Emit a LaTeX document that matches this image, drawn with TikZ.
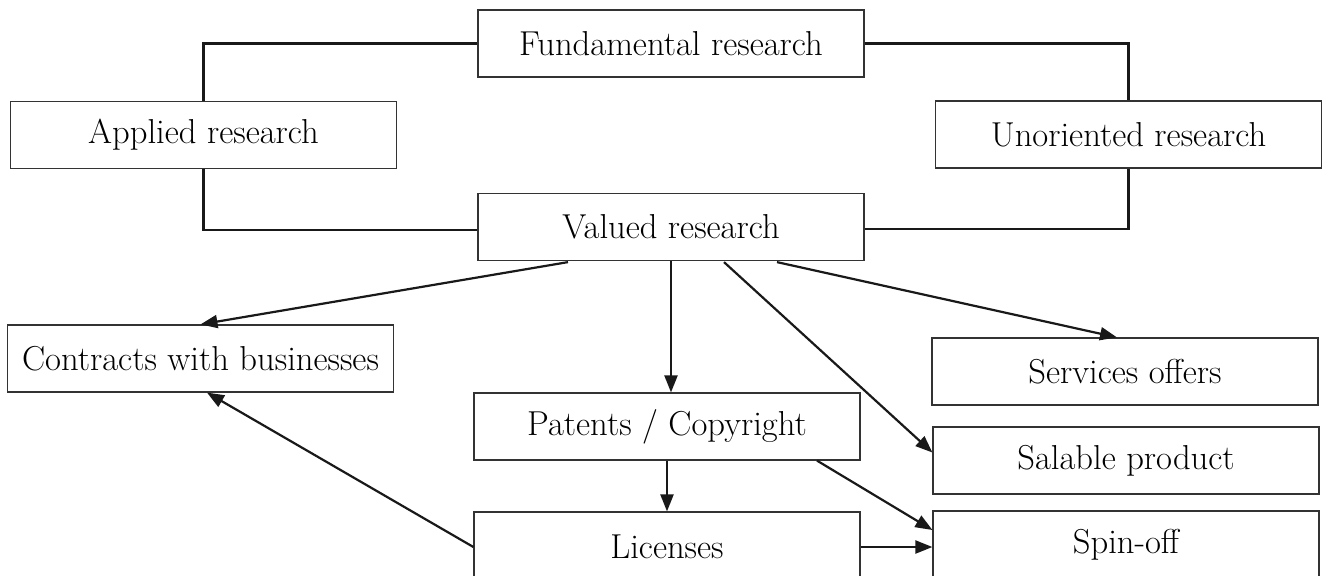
\documentclass[tikz,border=0pt]{standalone}
\usetikzlibrary{arrows.meta,calc}
\begin{document}
\begin{tikzpicture}[x=0.5pt,y=-0.5pt,
  box/.style={draw=black!80, line width=0.6pt, minimum width=193pt, minimum height=33.5pt,
    inner sep=0pt, font=\fontsize{17.3}{20}\selectfont, text=black},
  link/.style={line width=1.1pt, draw=black!90},
  arr/.style={link, -{Triangle[length=8.5pt,width=6.5pt]}}]
\useasboundingbox (0,0) rectangle (1322,575);
\node[box] (fund) at (671,43.5) {Fundamental research};
\node[box] (app) at (203.5,135) {Applied research};
\node[box] (unor) at (1128.5,134.5) {Unoriented research};
\node[box] (val) at (671,227) {Valued research};
\node[box] (con) at (200.5,358.5) {Contracts with businesses};
\node[box] (serv) at (1125,371.5) {Services offers};
\node[box] (pat) at (667,426.5) {Patents / Copyright};
\node[box] (sal) at (1126,460.5) {Salable product};
\node[box, minimum height=35pt] (lic) at (667,547) {Licenses};
\node[box, minimum height=34pt] (spin) at (1126,545) {Spin-off};
\draw[link] (fund.west) -| (app.north);
\draw[link] (fund.east) -| (unor.north);
\draw[link] (app.south) |- ($(val.west)+(0,3)$);
\draw[link] (unor.south) |- ($(val.east)+(0,2)$);
\draw[arr] ($(val.south)+(-103,1)$) -- (con.north);
\draw[arr] (val.south) -- (val.south |- pat.north);
\draw[arr] ($(val.south)+(53,1)$) -- ($(sal.west)+(0,-8)$);
\draw[arr] ($(val.south)+(106,1)$) -- ($(serv.north)+(-8,0)$);
\draw[arr] (lic.west) -- ($(con.south)+(6.5,0)$);
\draw[arr] (pat.south) -- (lic.north);
\draw[arr] ($(pat.south)+(150,0)$) -- ($(spin.west)+(0,-15)$);
\draw[arr] (lic.east) -- (lic.east -| spin.west);
\end{tikzpicture}
\end{document}
